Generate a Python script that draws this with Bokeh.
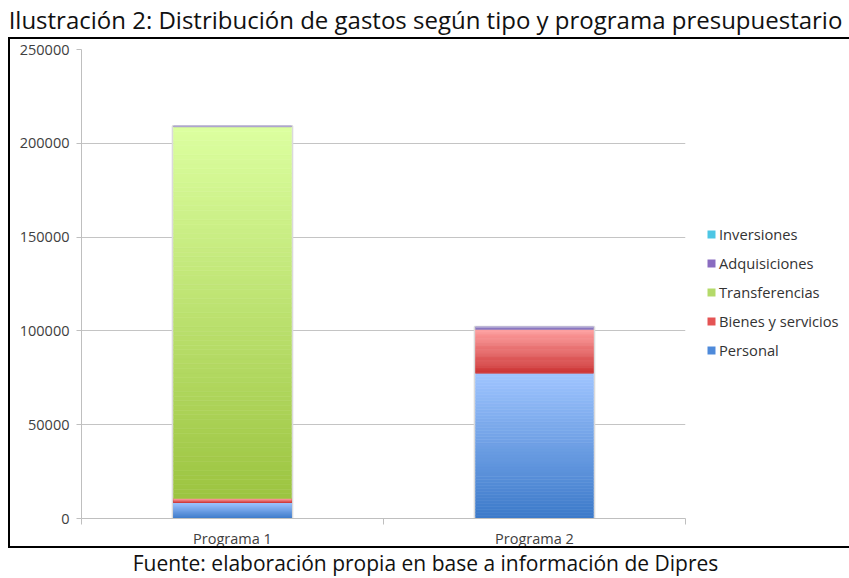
import numpy as np
from bokeh.plotting import figure
from bokeh.models import (Range1d, FixedTicker, Legend, LegendItem, LinearAxis,
                          BasicTickFormatter, Div)
from bokeh.layouts import column
from bokeh.embed import file_html
from bokeh.resources import INLINE

# ---------------- data ----------------
title_text = "Ilustración 2: Distribución de gastos según tipo y programa presupuestario"
source_text = "Fuente: elaboración propia en base a información de Dipres"
programs = ["Programa 1", "Programa 2"]
series_names = ["Personal", "Bienes y servicios", "Transferencias", "Adquisiciones", "Inversiones"]
personal = [8600, 77400]
bienes_servicios = [2100, 23400]
transferencias = [198100, 0]
adquisiciones = [300, 1200]
inversiones = [100, 200]
y_ticks = [0, 50000, 100000, 150000, 200000, 250000]

# ---------------- styles ----------------
FONT = "Open Sans"
gradients = {
    "Personal": ("#3B79C9", "#A0C5FF"),
    "Bienes y servicios": ("#CC3434", "#FFA0A0"),
    "Transferencias": ("#9CC440", "#DCFFA0"),
    "Adquisiciones": ("#8A78C0", "#8A78C0"),
    "Inversiones": ("#B8B0D8", "#B8B0D8"),
}
legend_colors = {
    "Personal": "#4E8ADA",
    "Bienes y servicios": "#E45454",
    "Transferencias": "#B4DA6A",
    "Adquisiciones": "#8A6CC0",
    "Inversiones": "#4DC6E4",
}
slices = {"Personal": 48, "Bienes y servicios": 40, "Transferencias": 80,
          "Adquisiciones": 1, "Inversiones": 1}


def hex2rgb(h):
    h = h.lstrip("#")
    return np.array([int(h[i:i + 2], 16) for i in (0, 2, 4)], dtype=float)


def mix(c0, c1, t):
    r = hex2rgb(c0) * (1 - t) + hex2rgb(c1) * t
    return "#%02x%02x%02x" % tuple(int(round(v)) for v in r)


W_TOTAL = 841

# ---------------- title ----------------
title_div = Div(text=title_text, width=W_TOTAL, height=30,
                styles={"font-family": FONT, "font-size": "24px", "text-align": "center",
                        "line-height": "30px", "color": "#111111", "white-space": "nowrap"})

# ---------------- main figure ----------------
n = len(programs)
x_pos = [i + 0.5 for i in range(n)]
BAR_W = 0.39

p = figure(frame_width=600, frame_height=465,
           x_range=Range1d(0, n), y_range=Range1d(y_ticks[0], y_ticks[-1]),
           output_backend="svg", toolbar_location=None,
           x_axis_location=None, y_axis_location="left",
           min_border_left=71, min_border_right=159, min_border_top=10, min_border_bottom=32,
           styles={"border": "2px solid black", "box-sizing": "content-box",
                   "transform": "translate(8px, -3px)"})
p.outline_line_color = None
p.xgrid.visible = False
yt = FixedTicker(ticks=y_ticks)
p.ygrid.ticker = yt
p.ygrid.grid_line_color = "#C4C4C4"
p.ygrid.grid_line_width = 1

ya = p.yaxis[0]
ya.ticker = yt
ya.formatter = BasicTickFormatter(use_scientific=False)
ya.axis_line_color = "#BFBFBF"
ya.major_tick_line_color = "#BFBFBF"
ya.major_tick_out = 5
ya.major_tick_in = 0
ya.minor_tick_line_color = None
ya.major_label_text_font = FONT
ya.major_label_text_font_size = "14.5px"
ya.major_label_text_color = "#404040"
ya.major_label_standoff = 7

xa = LinearAxis(ticker=FixedTicker(ticks=x_pos, minor_ticks=list(range(n + 1))),
                major_label_overrides={x: name for x, name in zip(x_pos, programs)})
xa.axis_line_color = "#BFBFBF"
xa.major_tick_line_color = None
xa.minor_tick_line_color = "#BFBFBF"
xa.minor_tick_out = 6
xa.minor_tick_in = 0
xa.major_label_text_font = FONT
xa.major_label_text_font_size = "14.5px"
xa.major_label_text_color = "#404040"
xa.major_label_standoff = 4
p.add_layout(xa, "below")

series_values = [personal, bienes_servicios, transferencias, adquisiciones, inversiones]
totals = [sum(v[j] for v in series_values) for j in range(n)]

# soft outline behind bars
p.vbar(x=x_pos, bottom=[0] * n, top=totals, width=BAR_W + 0.006, fill_color=None,
       line_color="#DADADA", line_width=2)

base = [0.0] * n
for name, vals in zip(series_names, series_values):
    c0, c1 = gradients[name]
    N = slices[name]
    xs, bots, tops, cols = [], [], [], []
    for j, v in enumerate(vals):
        if v <= 0:
            continue
        for k in range(N):
            xs.append(x_pos[j])
            bots.append(base[j] + v * k / N)
            tops.append(base[j] + v * (k + 1) / N)
            cols.append(mix(c0, c1, (k + 0.5) / N))
        base[j] += v
    if xs:
        p.vbar(x=xs, bottom=bots, top=tops, width=BAR_W, fill_color=cols,
               line_color=cols, line_width=0.6)

items = []
for name in reversed(series_names):
    r = p.vbar(x=[x_pos[0]], bottom=[0], top=[0], width=0.0, fill_color=legend_colors[name],
               line_color=None)
    items.append(LegendItem(label=name, renderers=[r]))
legend = Legend(items=items, location=(21, 158), orientation="vertical",
                glyph_width=10, glyph_height=10, label_standoff=3, label_height=20,
                spacing=9, padding=0, margin=0, border_line_color=None,
                background_fill_alpha=0, label_text_font=FONT,
                label_text_font_size="14.7px", label_text_color="#333333")
p.add_layout(legend, "right")

# ---------------- footer ----------------
foot_div = Div(text=source_text, width=W_TOTAL, height=21,
               styles={"font-family": FONT, "font-size": "21px", "text-align": "center",
                       "line-height": "14px", "color": "#111111", "white-space": "nowrap",
                       "overflow": "visible"})

layout = column(title_div, p, foot_div, spacing=0)
open("out.html", "w").write(file_html(layout, INLINE))
